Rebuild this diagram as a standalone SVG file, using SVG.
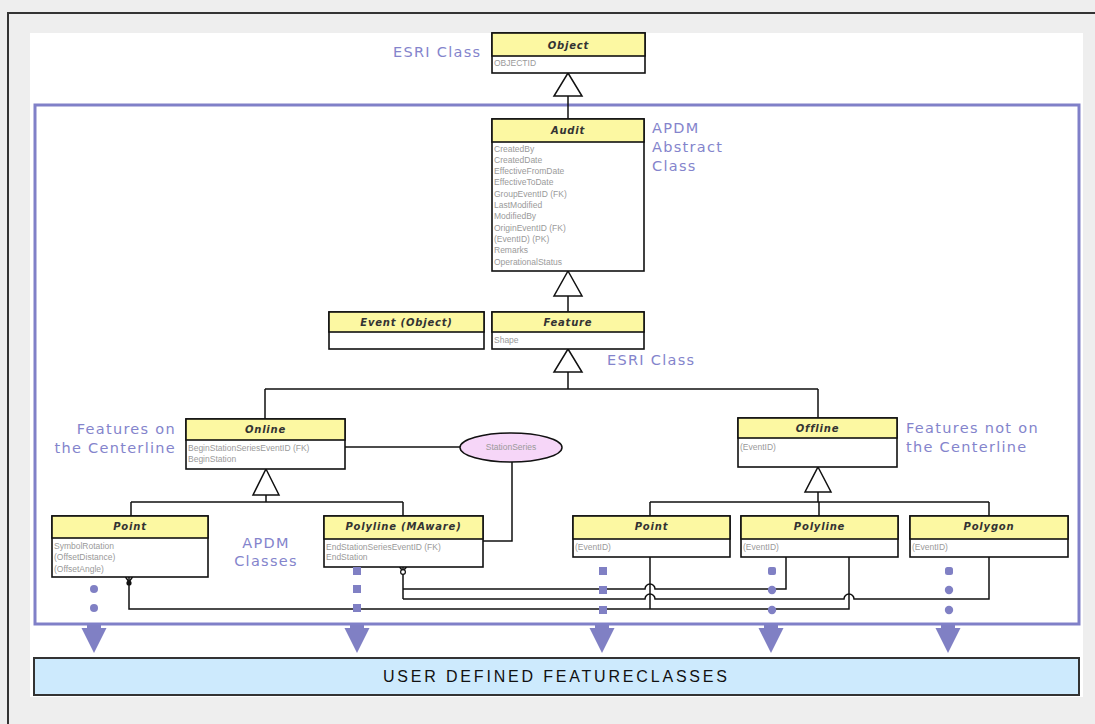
<svg xmlns="http://www.w3.org/2000/svg" xmlns:xlink="http://www.w3.org/1999/xlink" width="1095" height="724" viewBox="0 0 1095 724">
  <style>
    .frame { fill: none; stroke: #333; stroke-width: 2; }
    .cls { fill: #fff; stroke: #111; stroke-width: 1.6; }
    .hdr { fill: #fcf8a2; stroke: #111; stroke-width: 1.6; }
    .ttl { font-family: "DejaVu Sans", Verdana, sans-serif; font-size: 10px; font-weight: bold; font-style: italic; fill: #333; text-anchor: middle; letter-spacing: 0.8px; }
    .att { font-family: "Liberation Sans", Arial, sans-serif; font-size: 8.5px; fill: #9a9a9a; }
    .lbl { font-family: "DejaVu Sans", Verdana, sans-serif; font-size: 14.5px; fill: #8484cc; letter-spacing: 1.3px; }
    .conn { fill: none; stroke: #111; stroke-width: 1.5; }
    .gen { fill: #fff; stroke: #111; stroke-width: 1.5; }
    .pu { fill: #8080c4; }
    .apdm { fill: none; stroke: #8080c8; stroke-width: 3; }
  </style>
  <defs>
    <!-- block arrow pointing down, tip at (0,28) -->
    <path id="dn" d="M-7,0 h14 v3 h5.5 L0,28 L-12.5,3 h5.5 z"/>
  </defs>

  <!-- page background -->
  <rect x="0" y="0" width="1095" height="724" fill="#eeeeee"/>
  <path class="frame" d="M8,724 V13 H1095"/>
  <rect x="30" y="33" width="1053" height="664" fill="#ffffff"/>

  <!-- APDM package frame -->
  <rect id="apdm-frame" class="apdm" x="35" y="105" width="1044" height="519"/>

  <!-- labels -->
  <g id="labels">
    <text class="lbl" x="393" y="57">ESRI Class</text>
    <text class="lbl" x="652" y="133">APDM</text>
    <text class="lbl" x="652" y="152">Abstract</text>
    <text class="lbl" x="652" y="171">Class</text>
    <text class="lbl" x="607" y="365">ESRI Class</text>
    <text class="lbl" x="176" y="434" text-anchor="end">Features on</text>
    <text class="lbl" x="176" y="453" text-anchor="end">the Centerline</text>
    <text class="lbl" x="906" y="433">Features not on</text>
    <text class="lbl" x="906" y="452">the Centerline</text>
    <text class="lbl" x="266" y="548" text-anchor="middle">APDM</text>
    <text class="lbl" x="266" y="566" text-anchor="middle">Classes</text>
  </g>

  <!-- connectors -->
  <g id="connectors">
    <!-- Audit -> Object -->
    <path class="conn" d="M568,96 V119"/>
    <polygon class="gen" points="568,73 582,96 554,96"/>
    <!-- Feature -> Audit -->
    <path class="conn" d="M568,296 V312"/>
    <polygon class="gen" points="568,271 582,296 554,296"/>
    <!-- Online/Offline -> Feature -->
    <path class="conn" d="M568,372 V389 M265,389 H818 M265,389 V419 M818,389 V418"/>
    <polygon class="gen" points="568,349 582,372 554,372"/>
    <!-- Point/Polyline(MAware) -> Online -->
    <path class="conn" d="M266,495 V502 M131,502 H403 M131,502 V516 M403,502 V516"/>
    <polygon class="gen" points="266,469 279,495 253,495"/>
    <!-- Point/Polyline/Polygon -> Offline -->
    <path class="conn" d="M818,492 V502 M650,502 H989 M650,502 V516 M819,502 V516 M989,502 V516"/>
    <polygon class="gen" points="818,467 831,492 805,492"/>
    <!-- StationSeries associations -->
    <path class="conn" d="M345,447 H460"/>
    <path class="conn" d="M512,462 V541 H483"/>
    <!-- feature class relationships -->
    <path class="conn" d="M403,567 V599"/>
    <path class="conn" d="M403,589 H645 a5,5 0 0 1 10,0 H786 V557"/>
    <path class="conn" d="M403,599 H645 a5,5 0 0 1 10,0 H844 a5,5 0 0 1 10,0 H989 V557"/>
    <path class="conn" d="M129,577 V609 H849 V557"/>
    <path class="conn" d="M650,557 V609"/>
    <!-- end marks -->
    <path class="conn" d="M125.5,577 L129,582 L132.5,577" stroke-width="1.2"/>
    <circle cx="129" cy="583" r="2.6" fill="#111"/>
    <path class="conn" d="M399.5,567 L403,571 L406.5,567" stroke-width="1.2"/>
    <circle cx="403" cy="572" r="2.4" fill="#fff" stroke="#111" stroke-width="1.2"/>
  </g>

  <!-- classes -->
  <g id="object">
    <rect class="cls" x="492" y="33" width="153" height="40"/>
    <rect class="hdr" x="492" y="33" width="153" height="23"/>
    <text class="ttl" x="568.5" y="49">Object</text>
    <text class="att" x="494" y="66">OBJECTID</text>
  </g>

  <g id="audit">
    <rect class="cls" x="492" y="119" width="152" height="152"/>
    <rect class="hdr" x="492" y="119" width="152" height="23"/>
    <text class="ttl" x="568" y="134">Audit</text>
    <text class="att" x="494" y="151.5">CreatedBy</text>
    <text class="att" x="494" y="162.8">CreatedDate</text>
    <text class="att" x="494" y="174.1">EffectiveFromDate</text>
    <text class="att" x="494" y="185.4">EffectiveToDate</text>
    <text class="att" x="494" y="196.7">GroupEventID (FK)</text>
    <text class="att" x="494" y="208">LastModified</text>
    <text class="att" x="494" y="219.3">ModifiedBy</text>
    <text class="att" x="494" y="230.6">OriginEventID (FK)</text>
    <text class="att" x="494" y="241.9">(EventID) (PK)</text>
    <text class="att" x="494" y="253.2">Remarks</text>
    <text class="att" x="494" y="264.5">OperationalStatus</text>
  </g>

  <g id="event">
    <rect class="cls" x="329" y="312" width="155" height="37"/>
    <rect class="hdr" x="329" y="312" width="155" height="20"/>
    <text class="ttl" x="406.5" y="326">Event (Object)</text>
  </g>

  <g id="feature">
    <rect class="cls" x="492" y="312" width="152" height="37"/>
    <rect class="hdr" x="492" y="312" width="152" height="20"/>
    <text class="ttl" x="568" y="326">Feature</text>
    <text class="att" x="494" y="343">Shape</text>
  </g>

  <g id="online">
    <rect class="cls" x="186" y="419" width="159" height="50"/>
    <rect class="hdr" x="186" y="419" width="159" height="21"/>
    <text class="ttl" x="265.5" y="433">Online</text>
    <text class="att" x="188" y="451">BeginStationSeriesEventID (FK)</text>
    <text class="att" x="188" y="462">BeginStation</text>
  </g>

  <g id="stationseries">
    <ellipse cx="511" cy="447.5" rx="51" ry="14.5" fill="#f6d6f8" stroke="#111" stroke-width="1.5"/>
    <text class="att" x="511" y="450" text-anchor="middle" font-size="7.5">StationSeries</text>
  </g>

  <g id="offline">
    <rect class="cls" x="738" y="418" width="159" height="49"/>
    <rect class="hdr" x="738" y="418" width="159" height="20"/>
    <text class="ttl" x="817.5" y="432">Offline</text>
    <text class="att" x="740" y="449.5">(EventID)</text>
  </g>

  <g id="point-online">
    <rect class="cls" x="52" y="516" width="156" height="61"/>
    <rect class="hdr" x="52" y="516" width="156" height="22"/>
    <text class="ttl" x="130" y="530">Point</text>
    <text class="att" x="54" y="549">SymbolRotation</text>
    <text class="att" x="54" y="559.5">(OffsetDistance)</text>
    <text class="att" x="54" y="572">(OffsetAngle)</text>
  </g>

  <g id="polyline-maware">
    <rect class="cls" x="324" y="516" width="159" height="51"/>
    <rect class="hdr" x="324" y="516" width="159" height="23"/>
    <text class="ttl" x="403.5" y="530">Polyline (MAware)</text>
    <text class="att" x="326" y="549.5">EndStationSeriesEventID (FK)</text>
    <text class="att" x="326" y="560">EndStation</text>
  </g>

  <g id="point-offline">
    <rect class="cls" x="573" y="516" width="157" height="41"/>
    <rect class="hdr" x="573" y="516" width="157" height="23"/>
    <text class="ttl" x="651.5" y="530">Point</text>
    <text class="att" x="575" y="550">(EventID)</text>
  </g>

  <g id="polyline-offline">
    <rect class="cls" x="741" y="516" width="157" height="41"/>
    <rect class="hdr" x="741" y="516" width="157" height="23"/>
    <text class="ttl" x="819.5" y="530">Polyline</text>
    <text class="att" x="743" y="550">(EventID)</text>
  </g>

  <g id="polygon-offline">
    <rect class="cls" x="910" y="516" width="158" height="41"/>
    <rect class="hdr" x="910" y="516" width="158" height="23"/>
    <text class="ttl" x="989" y="530">Polygon</text>
    <text class="att" x="912" y="550">(EventID)</text>
  </g>

  <!-- dotted links down to user feature classes -->
  <g id="user-links" class="pu">
    <circle cx="94" cy="589" r="4"/>
    <circle cx="94" cy="608" r="4"/>
    <rect x="353" y="567" width="8" height="8"/>
    <rect x="353" y="585" width="8" height="8"/>
    <rect x="353" y="604" width="8" height="8"/>
    <rect x="599" y="567" width="8" height="8"/>
    <rect x="599" y="586" width="8" height="8"/>
    <rect x="599" y="606" width="8" height="8"/>
    <rect x="768" y="567" width="8" height="8" rx="2"/>
    <circle cx="772" cy="590" r="4.2"/>
    <circle cx="772" cy="610" r="4.2"/>
    <rect x="945" y="567" width="8" height="8" rx="2.5"/>
    <circle cx="949" cy="590" r="4.2"/>
    <circle cx="949" cy="610" r="4.2"/>
    <use xlink:href="#dn" x="94" y="625"/>
    <use xlink:href="#dn" x="357" y="625"/>
    <use xlink:href="#dn" x="602" y="625"/>
    <use xlink:href="#dn" x="771" y="625"/>
    <use xlink:href="#dn" x="948" y="625"/>
  </g>

  <g id="user-defined">
    <rect x="34" y="658" width="1045" height="37" fill="#cdeafd" stroke="#333" stroke-width="2"/>
    <text x="555" y="682" text-anchor="middle" font-family="'Liberation Sans Narrow', 'Liberation Sans', Arial, sans-serif" font-size="16" fill="#111" textLength="344" lengthAdjust="spacing">USER DEFINED FEATURECLASSES</text>
  </g>
</svg>
